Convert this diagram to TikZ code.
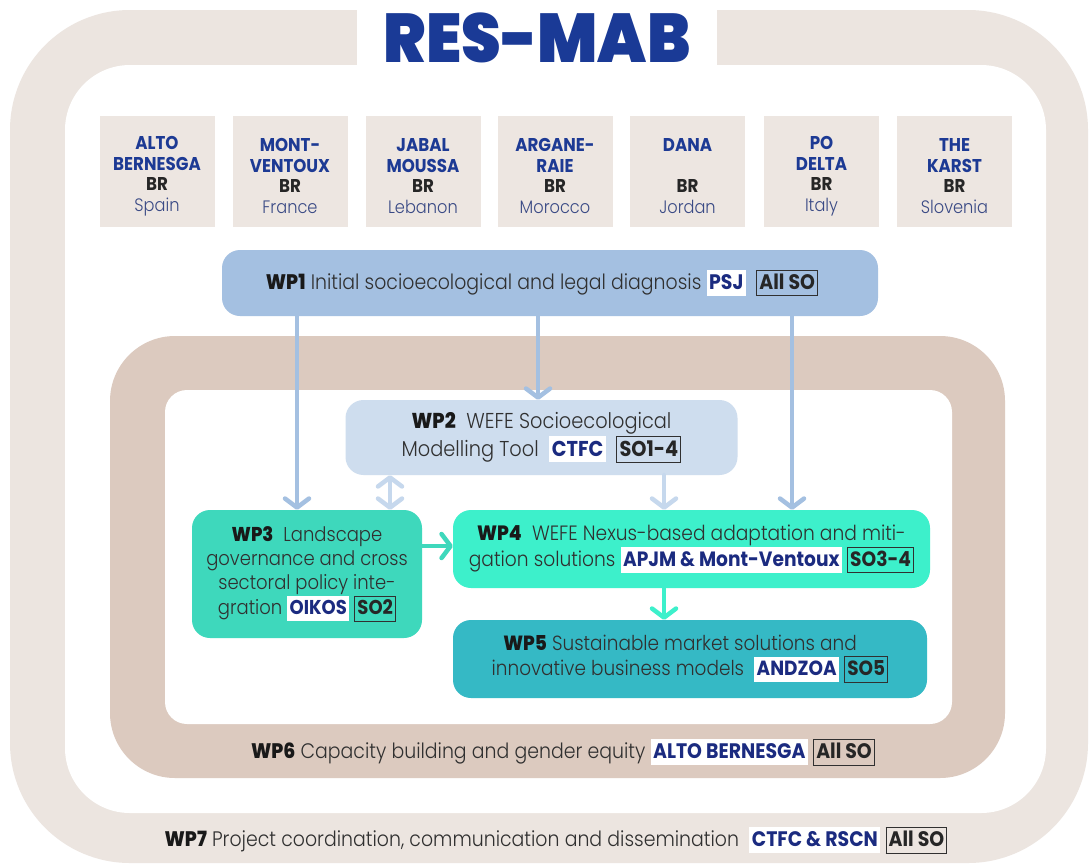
\documentclass[tikz,border=0pt]{standalone}
\usepackage{fontspec}
\usetikzlibrary{arrows.meta}
\newfontfamily\lightf{Poppins Light}[FakeStretch=0.9]
\newfontfamily\boldf{Poppins Bold}[FakeStretch=0.9]
\newfontfamily\heavyf{Poppins ExtraBold}[FakeStretch=0.9]
\newfontfamily\blackf{Poppins Black}[FakeStretch=0.92]
\definecolor{bandA}{HTML}{ECE5E0}
\definecolor{bandB}{HTML}{DCCABF}
\definecolor{brfill}{HTML}{EDE6E1}
\definecolor{wpA}{HTML}{A4C0E1}
\definecolor{wpB}{HTML}{CEDDEE}
\definecolor{wpC}{HTML}{3ED8BC}
\definecolor{wpD}{HTML}{3DF0CB}
\definecolor{wpE}{HTML}{35B9C5}
\definecolor{arrB}{HTML}{C6D8ED}
\definecolor{navy}{HTML}{1B2B80}
\definecolor{titleblue}{HTML}{1A3A96}
\definecolor{brblue}{HTML}{1D3A94}
\definecolor{ctry}{HTML}{3A4A85}
\definecolor{txt}{HTML}{303030}
\newcommand\tagstrut{\vrule height 0.8em depth 0.18em width 0pt}
\newcommand\wpl[1]{{\heavyf\color{black!90}#1}}
\newcommand\orgtag[1]{{\setlength\fboxsep{2.5pt}\colorbox{white}{\boldf\color{navy}\tagstrut #1}}}
\newcommand\sotag[1]{{\setlength\fboxsep{2.2pt}\setlength\fboxrule{0.9pt}\color{txt}\fbox{\boldf\color{black!85}\tagstrut #1}}}
\newcommand\brtext[3]{{\boldf\color{brblue}#1}\\{\boldf\color{brblue}#2}\\{\boldf\color{black!85}BR}\\{\lightf\color{ctry}\fontsize{18}{20.5}\selectfont #3}}
\tikzset{
  wpbox/.style={rounded corners=18pt, inner sep=0pt, align=center, text=txt,
    font=\lightf\fontsize{20.5}{25}\selectfont},
  brbox/.style={fill=brfill, minimum width=115pt, minimum height=111pt, inner sep=0pt},
  brlbl/.style={inner sep=0pt, align=center, font=\fontsize{18.5}{20.5}\selectfont},
  arr/.style={line width=4.5pt, line cap=round, -{Straight Barb[length=9pt,width=24pt,round]}},
  darr/.style={line width=4.5pt, line cap=round, {Straight Barb[length=9pt,width=24pt,round]}-{Straight Barb[length=9pt,width=24pt,round]}},
  lbl/.style={inner sep=0pt, text=txt, font=\lightf\fontsize{21}{25}\selectfont}
}
\begin{document}
\begin{tikzpicture}[x=1pt,y=-1pt]
\useasboundingbox (0,0) rectangle (1092,865);
\fill[white] (0,0) rectangle (1092,865);
% outer band WP7
\fill[bandA, rounded corners=120pt] (10,10) rectangle (1088,863);
\fill[white, rounded corners=65pt] (65,65) rectangle (1046,813);
\fill[white] (357,0) rectangle (717,67);
\node[inner sep=0pt, font=\blackf\fontsize{69}{69}\selectfont, text=titleblue] (title) at (537,38) {RES-MAB};
% WP6 band
\fill[bandB, rounded corners=65pt] (110,336) rectangle (1005,778);
\fill[white, rounded corners=22pt] (165,390) rectangle (952,724);
% BR boxes
\node[brbox] (br1) at (157,171) {};
\node[brbox] (br2) at (290,171) {};
\node[brbox] (br3) at (423,171) {};
\node[brbox] (br4) at (555,171) {};
\node[brbox] (br5) at (687.5,171) {};
\node[brbox] (br6) at (821.5,171) {};
\node[brbox] (br7) at (954.5,171) {};
\node[brlbl] (br1t) at ([yshift=-5pt]br1.center) {\brtext{ALTO}{BERNESGA}{Spain}};
\node[brlbl] (br2t) at ([yshift=-5pt]br2.center) {\brtext{MONT-}{VENTOUX}{France}};
\node[brlbl] (br3t) at ([yshift=-5pt]br3.center) {\brtext{JABAL}{MOUSSA}{Lebanon}};
\node[brlbl] (br4t) at ([yshift=-5pt]br4.center) {\brtext{ARGANE-}{RAIE}{Morocco}};
\node[brlbl] (br5t) at ([yshift=-5pt]br5.center) {\brtext{DANA}{\strut}{Jordan}};
\node[brlbl] (br6t) at ([yshift=-5pt]br6.center) {\brtext{PO}{DELTA}{Italy}};
\node[brlbl] (br7t) at ([yshift=-5pt]br7.center) {\brtext{THE}{KARST}{Slovenia}};
% WP boxes
\node[wpbox, fill=wpA, minimum width=656pt, minimum height=66pt, font=\lightf\fontsize{21}{25}\selectfont] (wp1) at (550,283)
  {\wpl{WP1}\ Initial socioecological and legal diagnosis\ \orgtag{PSJ}\ \ \sotag{All SO}\hspace*{16pt}};
\node[wpbox, fill=wpB, minimum width=392pt, minimum height=75pt, font=\lightf\fontsize{21.5}{28}\selectfont] (wp2) at (541.5,437.5)
  {\wpl{WP2}\ \ WEFE Socioecological\\Modelling Tool\ \ \orgtag{CTFC}\ \ \sotag{SO1-4}};
\node[wpbox, fill=wpC, minimum width=230pt, minimum height=128pt, font=\lightf\fontsize{20}{24}\selectfont] (wp3) at (307,574)
  {\wpl{WP3}\ \ Landscape\\governance and cross\\sectoral policy inte-\\gration\ \orgtag{OIKOS}\ \sotag{SO2}};
\node[wpbox, fill=wpD, minimum width=477pt, minimum height=78pt, font=\lightf\fontsize{20.7}{26}\selectfont] (wp4) at (691.5,549)
  {\wpl{WP4}\ \ WEFE Nexus-based adaptation and miti-\\gation solutions\ \orgtag{APJM \& Mont-Ventoux}\ \sotag{SO3-4}};
\node[wpbox, fill=wpE, minimum width=474pt, minimum height=78pt] (wp5) at (690,659)
  {\wpl{WP5}\ Sustainable market solutions and\hspace*{20pt}\\innovative business models\ \ \orgtag{ANDZOA}\ \sotag{SO5}};
% band labels
\node[lbl] (wp6) at (563,752) {\wpl{WP6}\ Capacity building and gender equity\ \orgtag{ALTO BERNESGA}\ \sotag{All SO}};
\node[lbl] (wp7) at (556,840) {\wpl{WP7}\ Project coordination, communication and dissemination\ \ \orgtag{CTFC \& RSCN}\ \sotag{All SO}};
% arrows
\coordinate (xa) at (297,0);
\coordinate (xb) at (538,0);
\coordinate (xc) at (792,0);
\coordinate (xd) at (390,0);
\coordinate (xe) at (664,0);
\coordinate (ya) at (0,546);
\draw[arr, wpA] (xa |- wp1.south) -- (xa |- wp3.north);
\draw[arr, wpA] (xb |- wp1.south) -- (xb |- wp2.north);
\draw[arr, wpA] (xc |- wp1.south) -- (xc |- wp4.north);
\draw[darr, arrB] (xd |- wp2.south) -- (xd |- wp3.north);
\draw[arr, arrB] (xe |- wp2.south) -- (xe |- wp4.north);
\draw[arr, wpC] (wp3.east |- ya) -- (wp4.west |- ya);
\draw[arr, wpD] (xe |- wp4.south) -- (xe |- wp5.north);
\end{tikzpicture}
\end{document}
